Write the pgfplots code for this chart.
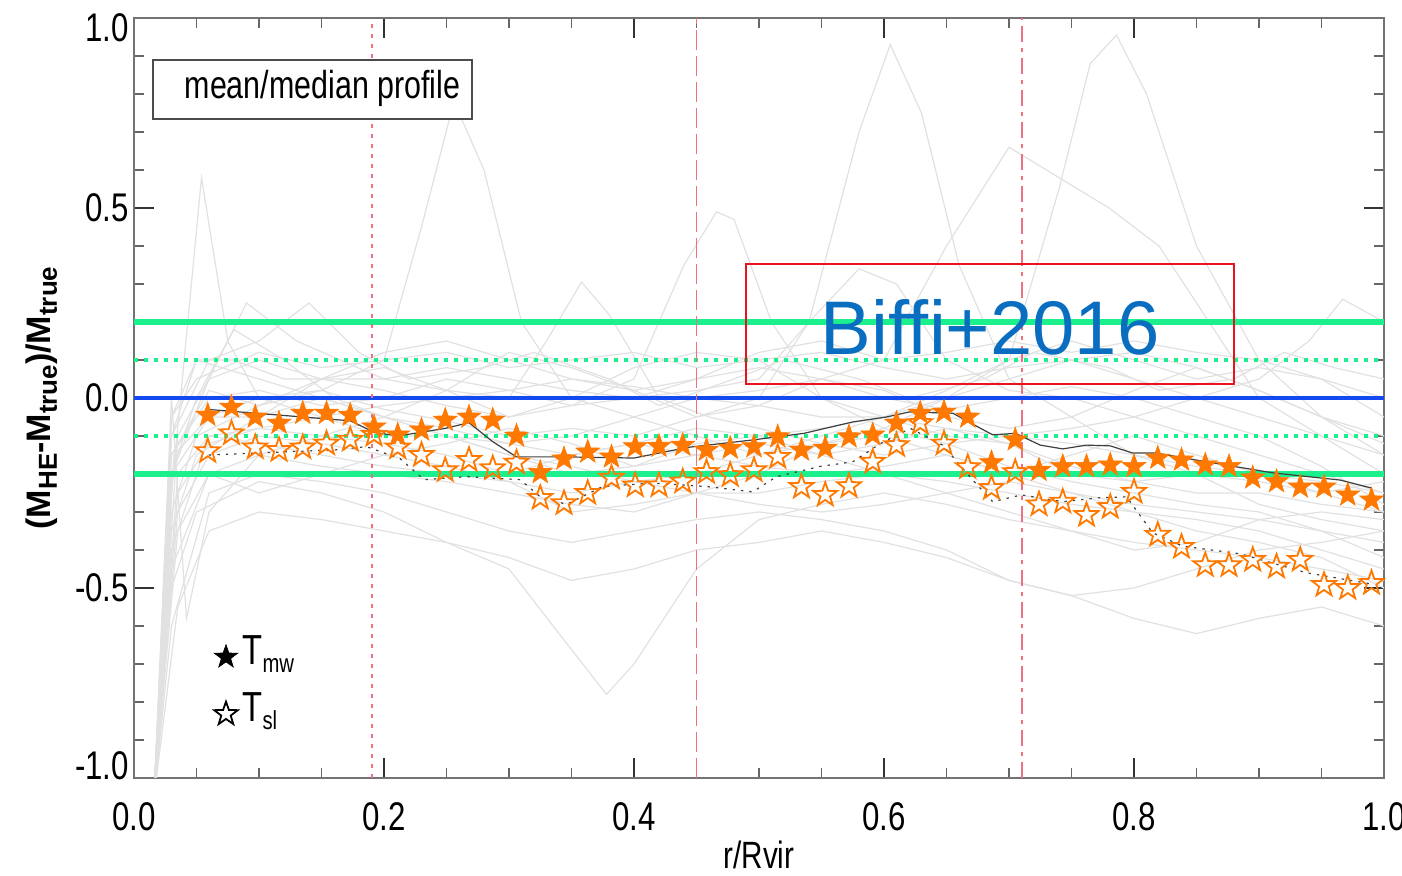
\documentclass[border=0pt]{standalone}
\usepackage{fontspec}
\setmainfont[FakeStretch=0.78]{Liberation Sans}
\newfontfamily\widefont{Liberation Sans}
\usepackage{pgfplots}
\usepackage{pgfplotstable}
\pgfplotsset{compat=1.18}
\usetikzlibrary{calc}

\definecolor{orng}{HTML}{FF7800}
\definecolor{grn}{HTML}{1CF08C}
\definecolor{blu}{HTML}{1448F0}
\definecolor{vred}{HTML}{F07080}
\definecolor{boxred}{HTML}{E8141C}
\definecolor{biffi}{HTML}{0A6EC0}
\definecolor{glines}{HTML}{E1E1E1}

\newcommand\starpath{%
 \pgfpathmoveto{\pgfpointpolar{90}{\pgfplotmarksize}}%
 \pgfpathlineto{\pgfpointpolar{126}{0.40*\pgfplotmarksize}}%
 \pgfpathlineto{\pgfpointpolar{162}{\pgfplotmarksize}}%
 \pgfpathlineto{\pgfpointpolar{198}{0.40*\pgfplotmarksize}}%
 \pgfpathlineto{\pgfpointpolar{234}{\pgfplotmarksize}}%
 \pgfpathlineto{\pgfpointpolar{270}{0.40*\pgfplotmarksize}}%
 \pgfpathlineto{\pgfpointpolar{306}{\pgfplotmarksize}}%
 \pgfpathlineto{\pgfpointpolar{342}{0.40*\pgfplotmarksize}}%
 \pgfpathlineto{\pgfpointpolar{18}{\pgfplotmarksize}}%
 \pgfpathlineto{\pgfpointpolar{54}{0.40*\pgfplotmarksize}}%
 \pgfpathclose}
\pgfdeclareplotmark{pstarfill}{\starpath\pgfusepathqfillstroke}
\pgfdeclareplotmark{pstaropen}{\starpath\pgfusepathqstroke}

\pgfplotstableread{
x tmw tsl
0.059 -0.045 -0.140
0.078 -0.024 -0.093
0.097 -0.050 -0.130
0.116 -0.066 -0.137
0.135 -0.040 -0.130
0.154 -0.040 -0.120
0.173 -0.045 -0.110
0.192 -0.076 -0.097
0.211 -0.097 -0.130
0.230 -0.084 -0.150
0.249 -0.058 -0.190
0.268 -0.050 -0.163
0.287 -0.058 -0.185
0.306 -0.100 -0.170
0.325 -0.196 -0.263
0.344 -0.160 -0.277
0.363 -0.142 -0.250
0.382 -0.155 -0.210
0.401 -0.128 -0.230
0.420 -0.127 -0.230
0.439 -0.124 -0.220
0.458 -0.137 -0.195
0.477 -0.132 -0.203
0.496 -0.128 -0.190
0.515 -0.102 -0.155
0.534 -0.137 -0.234
0.553 -0.132 -0.255
0.572 -0.102 -0.232
0.591 -0.097 -0.168
0.610 -0.066 -0.124
0.629 -0.040 -0.066
0.648 -0.037 -0.120
0.667 -0.050 -0.182
0.686 -0.170 -0.237
0.705 -0.110 -0.195
0.724 -0.190 -0.280
0.743 -0.180 -0.273
0.762 -0.180 -0.308
0.781 -0.176 -0.287
0.800 -0.180 -0.247
0.819 -0.158 -0.360
0.838 -0.163 -0.392
0.857 -0.176 -0.440
0.876 -0.180 -0.440
0.895 -0.210 -0.426
0.914 -0.220 -0.444
0.933 -0.234 -0.426
0.952 -0.234 -0.492
0.971 -0.255 -0.500
0.990 -0.268 -0.487
}\stars

\begin{document}
\begin{tikzpicture}
\begin{axis}[
  width=625pt, height=380pt, scale only axis,
  xmin=0, xmax=1, ymin=-1, ymax=1,
  xtick={0,0.2,0.4,0.6,0.8,1.0},
  xticklabels={0.0,0.2,0.4,0.6,0.8,1.0},
  ytick={-1,-0.5,0,0.5,1},
  yticklabels={\raisebox{6pt}[\height][\depth]{-1.0},-0.5,0.0,0.5,\raisebox{-5pt}[\height][\depth]{1.0}},
  minor x tick num=3, minor y tick num=4,
  tick align=inside,
  major tick length=10pt, minor tick length=5pt,
  axis line style={black!55, line width=0.8pt},
  major tick style={black!80, line width=0.8pt},
  minor tick style={black!60, line width=0.8pt},
  tick label style={font=\fontsize{20}{22}\selectfont},
  xticklabel style={yshift=-9pt},
  yticklabel style={xshift=1pt},
  xlabel={r/Rvir},
  xlabel style={at={(axis description cs:0.5,-0.101)}, anchor=center, font=\fontsize{19}{20}\selectfont},
  ylabel={(M\raisebox{-3pt}{\fontsize{13}{13}\selectfont HE}-M\raisebox{-3pt}{\fontsize{13}{13}\selectfont true})/M\raisebox{-3pt}{\fontsize{13}{13}\selectfont true}},
  ylabel style={at={(axis description cs:-0.0736,0.5)}, anchor=center, font=\widefont\bfseries\fontsize{17}{20}\selectfont},
]
% individual cluster profiles
\addplot[glines, line width=0.6pt] coordinates {(0.016,-1.05) (0.03,-0.25) (0.054,0.58) (0.075,0.15) (0.1,0.0) (0.15,-0.05) (0.2,-0.1) (0.25,-0.1) (0.3,-0.15) (0.35,-0.2) (0.4,-0.18) (0.45,-0.12) (0.5,-0.1) (0.55,-0.08) (0.6,-0.05) (0.65,-0.1) (0.7,-0.12) (0.75,-0.2) (0.8,-0.22) (0.85,-0.25) (0.9,-0.25) (0.95,-0.28) (1.0,-0.3)};
\addplot[glines, line width=0.6pt] coordinates {(0.016,-1.05) (0.032,-0.15) (0.06,-0.05) (0.1,0.0) (0.15,0.02) (0.2,0.1) (0.23,0.45) (0.256,0.78) (0.28,0.6) (0.31,0.2) (0.35,0.0) (0.4,-0.05) (0.45,-0.1) (0.5,-0.15) (0.55,-0.12) (0.6,-0.1) (0.65,-0.15) (0.7,-0.2) (0.75,-0.25) (0.8,-0.28) (0.85,-0.3) (0.9,-0.32) (0.95,-0.35) (1.0,-0.38)};
\addplot[glines, line width=0.6pt] coordinates {(0.016,-1.05) (0.03,-0.3) (0.05,-0.1) (0.1,-0.02) (0.15,0.02) (0.2,-0.03) (0.25,-0.06) (0.3,-0.1) (0.35,-0.08) (0.4,-0.1) (0.45,-0.05) (0.5,0.0) (0.54,0.2) (0.58,0.7) (0.605,0.93) (0.63,0.75) (0.66,0.35) (0.7,0.05) (0.75,-0.05) (0.8,-0.15) (0.85,-0.2) (0.9,-0.28) (0.95,-0.32) (1.0,-0.35)};
\addplot[glines, line width=0.6pt] coordinates {(0.016,-1.05) (0.035,-0.2) (0.06,-0.1) (0.1,-0.12) (0.15,-0.15) (0.2,-0.18) (0.25,-0.2) (0.3,-0.22) (0.35,-0.25) (0.4,-0.22) (0.45,-0.2) (0.5,-0.15) (0.55,-0.1) (0.6,-0.05) (0.65,0.0) (0.7,0.1) (0.74,0.55) (0.765,0.88) (0.786,0.955) (0.81,0.8) (0.85,0.4) (0.9,0.1) (0.95,-0.05) (1.0,-0.15)};
\addplot[glines, line width=0.6pt] coordinates {(0.016,-1.05) (0.03,-0.35) (0.05,-0.15) (0.1,-0.05) (0.15,0.0) (0.2,-0.05) (0.25,-0.1) (0.3,-0.12) (0.35,-0.1) (0.4,-0.05) (0.45,0.0) (0.5,0.02) (0.55,0.05) (0.6,0.1) (0.65,0.4) (0.7,0.66) (0.74,0.58) (0.78,0.5) (0.82,0.4) (0.86,0.2) (0.9,0.0) (0.95,-0.1) (1.0,-0.2)};
\addplot[glines, line width=0.6pt] coordinates {(0.016,-1.05) (0.03,-0.2) (0.06,0.05) (0.1,0.1) (0.15,0.05) (0.2,0.02) (0.25,-0.02) (0.3,-0.05) (0.35,-0.02) (0.4,0.05) (0.44,0.35) (0.466,0.49) (0.48,0.47) (0.51,0.2) (0.55,0.0) (0.6,-0.08) (0.65,-0.12) (0.7,-0.18) (0.75,-0.22) (0.8,-0.25) (0.85,-0.28) (0.9,-0.3) (0.95,-0.35) (1.0,-0.42)};
\addplot[glines, line width=0.6pt] coordinates {(0.016,-1.05) (0.03,-0.5) (0.05,-0.3) (0.1,-0.22) (0.15,-0.25) (0.2,-0.3) (0.25,-0.38) (0.3,-0.45) (0.34,-0.62) (0.378,-0.78) (0.4,-0.7) (0.45,-0.45) (0.5,-0.32) (0.55,-0.28) (0.6,-0.25) (0.65,-0.28) (0.7,-0.32) (0.75,-0.35) (0.8,-0.38) (0.85,-0.4) (0.9,-0.42) (0.95,-0.45) (1.0,-0.48)};
\addplot[glines, line width=0.6pt] coordinates {(0.016,-1.05) (0.035,-0.1) (0.06,0.05) (0.09,0.25) (0.13,0.15) (0.2,0.05) (0.25,0.02) (0.3,0.0) (0.33,0.15) (0.358,0.305) (0.38,0.22) (0.42,0.0) (0.46,-0.05) (0.5,-0.08) (0.55,-0.12) (0.6,-0.15) (0.65,-0.12) (0.7,-0.1) (0.75,-0.12) (0.8,-0.15) (0.85,-0.18) (0.9,-0.2) (0.95,-0.22) (1.0,-0.25)};
\addplot[glines, line width=0.6pt] coordinates {(0.016,-1.05) (0.03,-0.4) (0.06,-0.1) (0.1,-0.08) (0.15,-0.05) (0.2,-0.02) (0.25,0.0) (0.3,0.02) (0.35,0.05) (0.4,0.03) (0.45,0.0) (0.5,-0.02) (0.55,-0.05) (0.6,-0.05) (0.65,-0.08) (0.7,-0.1) (0.75,-0.08) (0.8,-0.05) (0.85,0.0) (0.9,0.05) (0.94,0.15) (0.967,0.26) (1.0,0.2)};
\addplot[glines, line width=0.6pt] coordinates {(0.016,-1.05) (0.03,-0.1) (0.05,0.1) (0.08,0.1) (0.12,0.05) (0.2,0.05) (0.25,0.08) (0.3,0.05) (0.35,0.02) (0.4,0.0) (0.45,0.02) (0.5,0.05) (0.54,0.2) (0.58,0.34) (0.61,0.3) (0.65,0.1) (0.7,0.02) (0.75,0.0) (0.8,-0.05) (0.85,-0.1) (0.9,-0.15) (0.95,-0.2) (1.0,-0.25)};
\addplot[glines, line width=0.6pt] coordinates {(0.016,-1.05) (0.03,-0.6) (0.06,-0.25) (0.1,-0.2) (0.15,-0.22) (0.2,-0.25) (0.25,-0.3) (0.3,-0.35) (0.35,-0.38) (0.4,-0.35) (0.45,-0.32) (0.5,-0.3) (0.55,-0.32) (0.6,-0.35) (0.65,-0.4) (0.7,-0.48) (0.75,-0.52) (0.8,-0.58) (0.85,-0.62) (0.9,-0.58) (0.95,-0.55) (1.0,-0.6)};
\addplot[glines, line width=0.6pt] coordinates {(0.016,-1.05) (0.03,-0.05) (0.05,0.1) (0.1,0.05) (0.15,0.0) (0.2,-0.05) (0.25,-0.1) (0.3,-0.15) (0.35,-0.18) (0.4,-0.22) (0.45,-0.25) (0.5,-0.25) (0.55,-0.22) (0.6,-0.2) (0.65,-0.22) (0.7,-0.25) (0.75,-0.28) (0.8,-0.3) (0.85,-0.32) (0.9,-0.35) (0.95,-0.4) (1.0,-0.45)};
\addplot[glines, line width=0.6pt] coordinates {(0.016,-1.05) (0.035,-0.35) (0.06,-0.2) (0.1,-0.15) (0.15,-0.18) (0.2,-0.2) (0.25,-0.22) (0.3,-0.25) (0.35,-0.28) (0.4,-0.3) (0.45,-0.25) (0.5,-0.2) (0.55,-0.12) (0.6,-0.08) (0.65,0.0) (0.7,0.05) (0.75,0.1) (0.8,0.12) (0.85,0.08) (0.9,0.02) (0.95,-0.05) (1.0,-0.12)};
\addplot[glines, line width=0.6pt] coordinates {(0.016,-1.05) (0.03,-0.15) (0.06,0.0) (0.1,0.02) (0.15,-0.02) (0.2,0.0) (0.25,0.05) (0.3,0.02) (0.35,-0.02) (0.4,0.0) (0.45,0.05) (0.5,0.08) (0.55,0.05) (0.6,0.0) (0.65,-0.03) (0.7,0.0) (0.75,0.03) (0.8,0.0) (0.85,-0.05) (0.9,-0.1) (0.95,-0.18) (1.0,-0.28)};
\addplot[glines, line width=0.6pt] coordinates {(0.016,-1.05) (0.035,-0.55) (0.06,-0.35) (0.1,-0.3) (0.15,-0.32) (0.2,-0.35) (0.25,-0.38) (0.3,-0.42) (0.35,-0.48) (0.4,-0.45) (0.45,-0.4) (0.5,-0.38) (0.55,-0.35) (0.6,-0.38) (0.65,-0.42) (0.7,-0.48) (0.75,-0.52) (0.8,-0.5) (0.85,-0.45) (0.9,-0.4) (0.95,-0.38) (1.0,-0.35)};
\addplot[glines, line width=0.6pt] coordinates {(0.016,-1.05) (0.03,0.0) (0.042,-0.58) (0.06,-0.3) (0.1,-0.15) (0.15,-0.1) (0.2,-0.12) (0.25,-0.15) (0.3,-0.2) (0.35,-0.15) (0.4,-0.12) (0.45,-0.15) (0.5,-0.18) (0.55,-0.2) (0.6,-0.18) (0.65,-0.15) (0.7,-0.2) (0.75,-0.15) (0.8,-0.1) (0.85,-0.15) (0.9,-0.2) (0.95,-0.25) (1.0,-0.3)};
\addplot[glines, line width=0.6pt] coordinates {(0.016,-1.05) (0.03,-0.05) (0.05,0.05) (0.1,0.12) (0.15,0.08) (0.2,0.1) (0.25,0.12) (0.3,0.08) (0.35,0.1) (0.4,0.12) (0.45,0.08) (0.5,0.1) (0.55,0.12) (0.6,0.08) (0.65,0.05) (0.7,0.08) (0.75,0.1) (0.8,0.05) (0.85,0.0) (0.9,-0.05) (0.95,-0.1) (1.0,-0.15)};
\addplot[glines, line width=0.6pt] coordinates {(0.016,-1.05) (0.03,-0.2) (0.06,-0.05) (0.1,-0.05) (0.15,0.05) (0.2,0.08) (0.25,0.02) (0.3,-0.05) (0.35,0.0) (0.4,0.08) (0.45,0.12) (0.5,0.1) (0.55,0.0) (0.6,-0.05) (0.65,0.02) (0.7,0.1) (0.75,0.15) (0.8,0.1) (0.85,0.05) (0.9,0.08) (0.95,0.05) (1.0,-0.05)};
\addplot[glines, line width=0.6pt] coordinates {(0.016,-1.05) (0.035,-0.3) (0.06,-0.15) (0.1,-0.1) (0.15,-0.12) (0.2,-0.15) (0.25,-0.12) (0.3,-0.08) (0.35,-0.12) (0.4,-0.18) (0.45,-0.15) (0.5,-0.12) (0.55,-0.15) (0.6,-0.12) (0.65,-0.08) (0.7,-0.12) (0.75,-0.18) (0.8,-0.22) (0.85,-0.2) (0.9,-0.22) (0.95,-0.25) (1.0,-0.22)};
\addplot[glines, line width=0.6pt] coordinates {(0.016,-1.05) (0.03,-0.1) (0.06,0.1) (0.1,0.15) (0.14,0.25) (0.18,0.12) (0.22,0.05) (0.28,0.08) (0.32,0.12) (0.38,0.05) (0.42,-0.02) (0.48,0.05) (0.52,0.1) (0.58,0.05) (0.62,0.0) (0.68,0.05) (0.72,0.12) (0.78,0.08) (0.82,0.02) (0.88,0.05) (0.92,0.12) (0.96,0.08) (1.0,0.05)};
\addplot[glines, line width=0.6pt] coordinates {(0.016,-1.05) (0.03,-0.45) (0.06,-0.2) (0.1,-0.25) (0.15,-0.2) (0.2,-0.15) (0.25,-0.18) (0.3,-0.22) (0.35,-0.3) (0.4,-0.28) (0.45,-0.25) (0.5,-0.28) (0.55,-0.3) (0.6,-0.28) (0.65,-0.25) (0.7,-0.22) (0.75,-0.25) (0.8,-0.3) (0.85,-0.35) (0.9,-0.38) (0.95,-0.42) (1.0,-0.5)};
\addplot[glines, line width=0.6pt] coordinates {(0.016,-1.05) (0.03,-0.15) (0.06,0.02) (0.1,-0.02) (0.15,0.05) (0.2,0.12) (0.25,0.15) (0.3,0.1) (0.35,0.05) (0.4,0.02) (0.45,0.05) (0.5,0.12) (0.55,0.15) (0.6,0.1) (0.65,0.12) (0.7,0.15) (0.75,0.12) (0.8,0.15) (0.85,0.12) (0.9,0.1) (0.95,0.05) (1.0,0.0)};
\addplot[glines, line width=0.6pt] coordinates {(0.016,-1.05) (0.035,-0.25) (0.06,-0.12) (0.1,-0.08) (0.15,-0.1) (0.2,-0.05) (0.25,-0.08) (0.3,-0.12) (0.35,-0.15) (0.4,-0.12) (0.45,-0.08) (0.5,-0.1) (0.55,-0.15) (0.6,-0.2) (0.65,-0.25) (0.7,-0.3) (0.75,-0.35) (0.8,-0.4) (0.85,-0.38) (0.9,-0.32) (0.95,-0.3) (1.0,-0.32)};
\addplot[glines, line width=0.6pt] coordinates {(0.016,-1.05) (0.03,-0.2) (0.05,0.0) (0.08,0.18) (0.12,0.1) (0.16,0.0) (0.2,-0.05) (0.25,0.02) (0.3,0.12) (0.35,0.08) (0.4,0.02) (0.45,-0.05) (0.5,-0.02) (0.55,0.05) (0.6,0.02) (0.65,-0.05) (0.7,-0.08) (0.75,-0.05) (0.8,0.02) (0.85,0.08) (0.9,0.02) (0.95,-0.05) (1.0,-0.1)};
% reference lines
\addplot[grn, line width=2.6pt] coordinates {(0,0.2) (1,0.2)};
\addplot[grn, line width=2.6pt] coordinates {(0,-0.2) (1,-0.2)};
\addplot[grn, line width=2pt, dash pattern=on 2pt off 3pt] coordinates {(0,0.1) (1,0.1)};
\addplot[grn, line width=2pt, dash pattern=on 2pt off 3pt] coordinates {(0,-0.1) (1,-0.1)};
\addplot[blu, line width=1.6pt] coordinates {(0,0) (1,0)};
\addplot[vred, line width=1.0pt, dash pattern=on 2pt off 3pt] coordinates {(0.19,-1) (0.19,1)};
\addplot[vred, line width=0.8pt, dash pattern=on 10pt off 3pt] coordinates {(0.45,-1) (0.45,1)};
\addplot[vred, line width=1.0pt, dash pattern=on 8pt off 3pt on 2pt off 3pt] coordinates {(0.71,-1) (0.71,1)};
% mean / median profiles
\addplot[black!75, line width=0.6pt] coordinates {(0.059,-0.03) (0.097,-0.04) (0.135,-0.05) (0.173,-0.06) (0.192,-0.09) (0.211,-0.10) (0.23,-0.09) (0.249,-0.08) (0.268,-0.065) (0.287,-0.115) (0.306,-0.155) (0.325,-0.155) (0.344,-0.155) (0.40,-0.158) (0.443,-0.13) (0.496,-0.11) (0.536,-0.093) (0.575,-0.063) (0.602,-0.05) (0.62,-0.037) (0.655,-0.04) (0.675,-0.076) (0.687,-0.097) (0.705,-0.093) (0.725,-0.124) (0.743,-0.134) (0.762,-0.124) (0.781,-0.126) (0.799,-0.145) (0.818,-0.145) (0.858,-0.168) (0.911,-0.197) (0.965,-0.216) (0.99,-0.237)};
\addplot[black!75, line width=0.6pt, dash pattern=on 1.2pt off 3pt] coordinates {(0.06,-0.15) (0.134,-0.14) (0.16,-0.137) (0.186,-0.128) (0.213,-0.16) (0.232,-0.215) (0.266,-0.207) (0.309,-0.215) (0.325,-0.26) (0.346,-0.28) (0.375,-0.233) (0.415,-0.224) (0.458,-0.233) (0.495,-0.247) (0.514,-0.207) (0.549,-0.18) (0.575,-0.168) (0.597,-0.12) (0.621,-0.08) (0.647,-0.124) (0.671,-0.216) (0.687,-0.273) (0.71,-0.255) (0.743,-0.273) (0.77,-0.263) (0.794,-0.26) (0.815,-0.355) (0.839,-0.39) (0.885,-0.41) (0.938,-0.46) (0.991,-0.49)};
% stars
\addplot[only marks, mark=pstaropen, mark size=6.3pt, mark options={draw=orng, line width=0.9pt}] table[x=x, y=tsl] {\stars};
\addplot[only marks, mark=pstarfill, mark size=6.3pt, mark options={draw=orng, fill=orng, line width=0.3pt}] table[x=x, y=tmw] {\stars};
% legend
\addplot[only marks, mark=pstarfill, mark size=6.2pt, mark options={draw=black, fill=black, line width=0.3pt}] coordinates {(0.0736,-0.6816)};
\addplot[only marks, mark=pstaropen, mark size=6.2pt, mark options={draw=black, line width=0.9pt}] coordinates {(0.0736,-0.8316)};
\node[anchor=west, inner sep=0pt, font=\fontsize{21}{22}\selectfont] at (axis cs:0.0865,-0.675) {T\raisebox{-4pt}{\fontsize{13}{13}\selectfont mw}};
\node[anchor=west, inner sep=0pt, font=\fontsize{21}{22}\selectfont] at (axis cs:0.0865,-0.825) {T\raisebox{-4pt}{\fontsize{13}{13}\selectfont sl}};
% annotation boxes
\draw[black!70, line width=0.8pt, fill=white] (axis cs:0.0152,0.734) rectangle (axis cs:0.2704,0.889);
\node[font=\fontsize{19.5}{22}\selectfont] at (axis cs:0.1508,0.814) {mean/median profile};
\draw[boxred, line width=1.2pt] (axis cs:0.4896,0.0368) rectangle (axis cs:0.88,0.3526);
\node[text=biffi, font=\widefont\fontsize{38}{40}\selectfont] at (axis cs:0.6848,0.187) {Biffi+2016};
\end{axis}
\pgfresetboundingbox
\path[use as bounding box] ($(current axis.south west)+(-67pt,-49pt)$) rectangle ($(current axis.north east)+(9pt,9pt)$);
\end{tikzpicture}
\end{document}
